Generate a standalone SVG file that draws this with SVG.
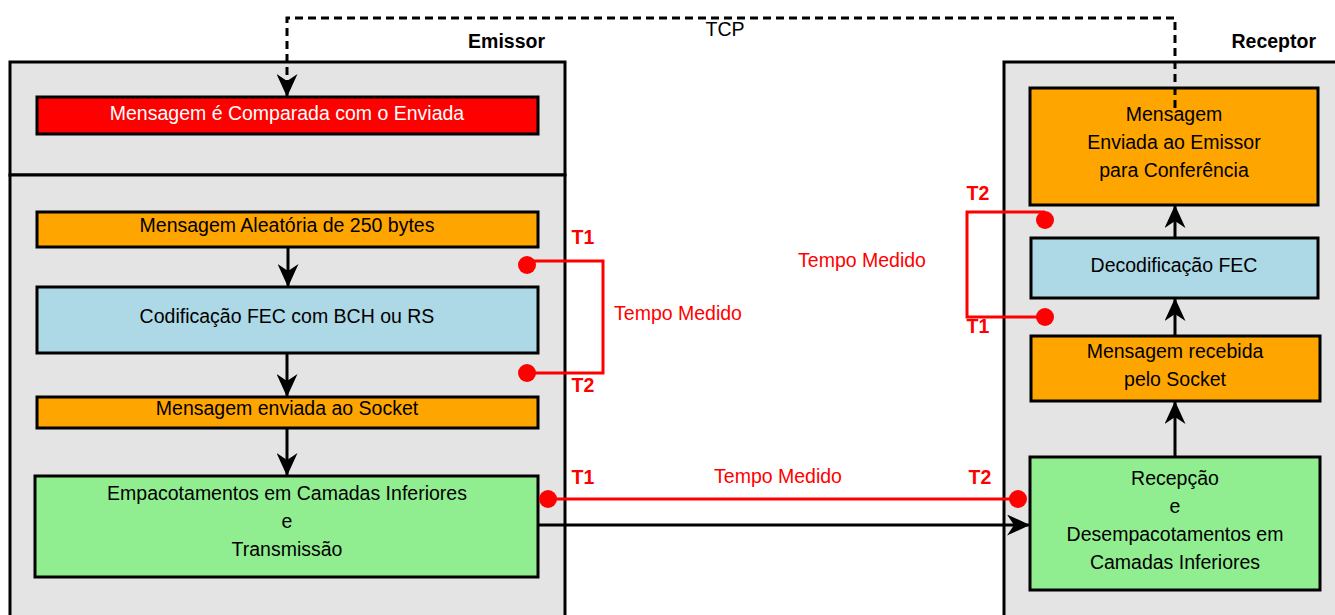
<svg xmlns="http://www.w3.org/2000/svg" width="1335" height="615" viewBox="0 0 1335 615">
<style>
text{font-family:"Liberation Sans",Arial,sans-serif;font-size:19.5px;text-anchor:middle}
.b{font-weight:bold}
.r{fill:#ff0000}
.box{stroke:#000;stroke-width:3}
.cont{fill:#e4e4e4;stroke:#000;stroke-width:3}
.or{fill:#ffa500}.bl{fill:#add8e6}.gr{fill:#90ee90}.rd{fill:#ff0000}
.arr{stroke:#000;stroke-width:3;fill:none;marker-end:url(#ah)}
.red{stroke:#ff0000;stroke-width:3;fill:none}
.dot{fill:#ff0000}
</style>
<defs>
<marker id="ah" viewBox="0 0 23 21" refX="22" refY="10.5" markerWidth="23" markerHeight="21" orient="auto" markerUnits="userSpaceOnUse"><path d="M0,0 L23,10.5 L0,21 L7,10.5 Z" fill="#000" stroke="none"/></marker>
</defs>
<g id="emissor">
<rect class="cont" x="10" y="62" width="555" height="113"/>
<rect class="cont" x="10" y="175" width="555" height="450"/>
<text class="b" x="545" y="48" style="text-anchor:end">Emissor</text>
</g>
<g id="receptor">
<rect class="cont" x="1004" y="62" width="345" height="563"/>
<text class="b" x="1316" y="48" style="text-anchor:end">Receptor</text>
</g>
<g id="n-comparada">
<rect class="box rd" x="37" y="97" width="501" height="37"/>
<text x="287" y="119.5" fill="#fff">Mensagem é Comparada com o Enviada</text>
</g>
<g id="n-aleatoria">
<rect class="box or" x="37" y="212" width="501" height="35"/>
<text x="287" y="231.5">Mensagem Aleatória de 250 bytes</text>
</g>
<g id="n-codificacao">
<rect class="box bl" x="37" y="287" width="501" height="66"/>
<text x="287" y="322.5">Codificação FEC com BCH ou RS</text>
</g>
<g id="n-enviada">
<rect class="box or" x="37" y="397" width="501" height="31"/>
<text x="287" y="414.5">Mensagem enviada ao Socket</text>
</g>
<g id="n-empacotamentos">
<rect class="box gr" x="35" y="476" width="503" height="101"/>
<text x="287" y="499.5">Empacotamentos em Camadas Inferiores</text>
<text x="287" y="527.5">e</text>
<text x="287" y="555.5">Transmissão</text>
</g>
<g id="n-conferencia">
<rect class="box or" x="1030" y="88" width="288" height="117"/>
<text x="1174" y="120.5">Mensagem</text>
<text x="1174" y="148.5">Enviada ao Emissor</text>
<text x="1174" y="176.5">para Conferência</text>
</g>
<g id="n-decodificacao">
<rect class="box bl" x="1031" y="238" width="287" height="60"/>
<text x="1174" y="271.5">Decodificação FEC</text>
</g>
<g id="n-recebida">
<rect class="box or" x="1031" y="336" width="289" height="65"/>
<text x="1175" y="357.5">Mensagem recebida</text>
<text x="1175" y="385.5">pelo Socket</text>
</g>
<g id="n-recepcao">
<rect class="box gr" x="1030" y="457" width="290" height="133"/>
<text x="1175" y="484.5">Recepção</text>
<text x="1175" y="512.5">e</text>
<text x="1175" y="540.5">Desempacotamentos em</text>
<text x="1175" y="568.5">Camadas Inferiores</text>
</g>
<g id="connectors">
<path class="arr" d="M1175,108 V18 H287 V96" stroke-dasharray="8 5"/>
<text x="725" y="36">TCP</text>
<path class="arr" d="M288,247 V286"/>
<path class="arr" d="M287,353 V396"/>
<path class="arr" d="M287,428 V475"/>
<path class="arr" d="M538,525 H1029"/>
<path class="arr" d="M1175,457 V402"/>
<path class="arr" d="M1175,336 V299"/>
<path class="arr" d="M1175,238 V206"/>
<path class="red" d="M527,261 H603 V373 H527"/>
<circle class="dot" cx="527" cy="265" r="9"/>
<circle class="dot" cx="527" cy="373" r="9"/>
<text class="b r" x="583" y="244">T1</text>
<text class="b r" x="583" y="392">T2</text>
<text class="r" x="678" y="320">Tempo Medido</text>
<path class="red" d="M548,499 H1018"/>
<circle class="dot" cx="548" cy="499" r="9"/>
<circle class="dot" cx="1018" cy="499" r="9"/>
<text class="b r" x="583" y="484">T1</text>
<text class="b r" x="980" y="484">T2</text>
<text class="r" x="778" y="483">Tempo Medido</text>
<path class="red" d="M1045,212 H967 V317 H1045"/>
<circle class="dot" cx="1045" cy="220" r="9"/>
<circle class="dot" cx="1045" cy="317" r="9"/>
<text class="b r" x="978" y="200">T2</text>
<text class="b r" x="978" y="333">T1</text>
<text class="r" x="862" y="267">Tempo Medido</text>
</g>
</svg>
